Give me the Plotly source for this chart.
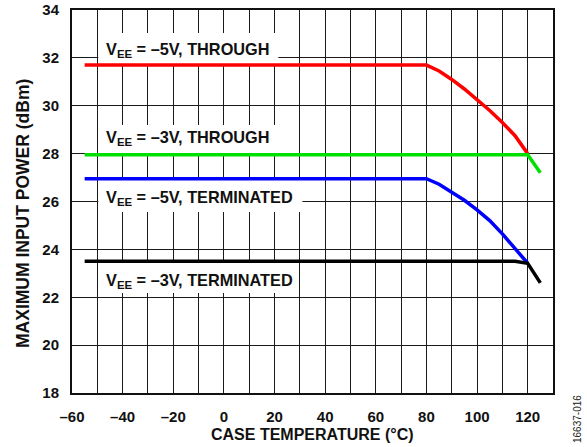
import plotly.graph_objects as go

# ---- data ----
temp_red = [-55, 80, 85, 90, 95, 100, 105, 110, 115, 120]
p_red = [31.7, 31.7, 31.45, 31.1, 30.7, 30.25, 29.8, 29.3, 28.75, 28.0]

temp_green = [-55, 120, 125]
p_green = [27.95, 27.95, 27.2]

temp_blue = [-55, 80, 85, 90, 95, 100, 105, 110, 115, 120]
p_blue = [26.95, 26.95, 26.72, 26.4, 26.05, 25.65, 25.2, 24.65, 24.05, 23.42]

temp_black = [-55, 115, 120, 125]
p_black = [23.5, 23.5, 23.42, 22.6]

x_tickvals = [-60, -40, -20, 0, 20, 40, 60, 80, 100, 120]
x_ticktext = ["–60", "–40", "–20", "0", "20", "40", "60", "80", "100", "120"]
y_tickvals = [18, 20, 22, 24, 26, 28, 30, 32, 34]

labels = ["V<sub>EE</sub> = –5V, THROUGH", "V<sub>EE</sub> = –3V, THROUGH",
          "V<sub>EE</sub> = –5V, TERMINATED", "V<sub>EE</sub> = –3V, TERMINATED"]
label_x = [-46.9, -46.9, -46.9, -46.9]
label_y = [32.33, 28.65, 26.15, 22.68]
# white boxes behind labels (x0, x1, y0, y1)
box_x0 = [-49.6, -49.6, -49.6, -49.6]
box_x1 = [21.5, 29.6, 31.0, 29.6]
box_y0 = [31.7, 27.95, 25.56, 22.18]
box_y1 = [33.04, 29.2, 26.95, 23.5]

FONT = "Liberation Sans, Arial, Helvetica, sans-serif"

L, R, T, B = 72, 553, 10, 393
W, H = 587, 447

def px_x(p):
    return (p - L) / (R - L)

def px_y(p):
    return (B - p) / (B - T)

fig = go.Figure()
for xs, ys, c in [(temp_red, p_red, "#ff0000"), (temp_green, p_green, "#00e000"),
                  (temp_blue, p_blue, "#0000ff"), (temp_black, p_black, "#000000")]:
    fig.add_trace(go.Scatter(x=xs, y=ys, mode="lines",
                             line=dict(color=c, width=3.5), showlegend=False,
                             hoverinfo="skip"))

for i in range(len(labels)):
    fig.add_shape(type="rect", xref="x", yref="y",
                  x0=box_x0[i], x1=box_x1[i], y0=box_y0[i], y1=box_y1[i],
                  fillcolor="white", line=dict(width=0), layer="between")
    fig.add_annotation(x=label_x[i], y=label_y[i], xref="x", yref="y",
                       text="<b>" + labels[i] + "</b>", showarrow=False,
                       xanchor="left", yanchor="middle", borderpad=0,
                       font=dict(family=FONT, size=16.3, color="#111"))

# axis titles
fig.add_annotation(x=px_x(312), y=px_y(434), xref="paper", yref="paper",
                   text="<b>CASE TEMPERATURE (°C)</b>", showarrow=False,
                   xanchor="center", yanchor="middle",
                   font=dict(family=FONT, size=16, color="#111"))
fig.add_annotation(x=px_x(23), y=px_y(214), xref="paper", yref="paper",
                   text="<b>MAXIMUM INPUT POWER (dBm)</b>", showarrow=False,
                   textangle=-90, xanchor="center", yanchor="middle",
                   font=dict(family=FONT, size=17.5, color="#111"))
# figure id
fig.add_annotation(x=px_x(577), y=px_y(419), xref="paper", yref="paper",
                   text="16637-016", showarrow=False, textangle=-90,
                   xanchor="center", yanchor="middle",
                   font=dict(family=FONT, size=10, color="#222"))

fig.update_layout(
    width=W, height=H,
    margin=dict(l=L, r=W - R, t=T, b=H - B, autoexpand=False),
    paper_bgcolor="white", plot_bgcolor="white",
    font=dict(family=FONT, color="#111"),
    xaxis=dict(range=[-60, 130], tickvals=x_tickvals, ticktext=x_ticktext,
               tickfont=dict(size=15, family=FONT, weight="bold", color="#111"),
               showgrid=True, gridcolor="#1a1a1a", gridwidth=1.4,
               minor=dict(dtick=10, tick0=0, showgrid=True, gridcolor="#1a1a1a", gridwidth=1.4),
               showline=True, linecolor="#111", linewidth=2, mirror=True,
               ticks="", ticklabelstandoff=9, zeroline=False, automargin=False),
    yaxis=dict(range=[18, 34], tickvals=y_tickvals,
               tickfont=dict(size=15, family=FONT, weight="bold", color="#111"),
               showgrid=True, gridcolor="#1a1a1a", gridwidth=1.4,
               showline=True, linecolor="#111", linewidth=2, mirror=True,
               ticks="", ticklabelstandoff=8, zeroline=False, automargin=False),
)

fig.write_html("out.html", config={"displayModeBar": False},
               post_script="document.body.style.margin='0';document.body.style.padding='0';")
